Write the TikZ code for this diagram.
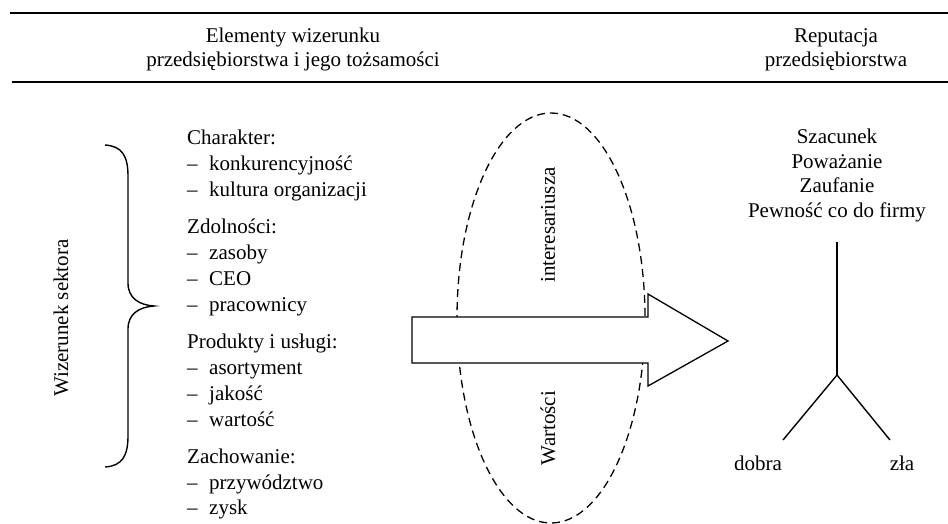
\documentclass[tikz,border=0pt]{standalone}
\usepackage{fontspec}
\setmainfont{Liberation Serif}
\tikzset{%
  txt/.style     = {font=\fontsize{21}{25}\selectfont, inner sep=0pt},%
  item/.style    = {txt, anchor=base west},%
  head/.style    = {txt, anchor=base},%
  vlabel/.style  = {txt, rotate=90},%
  hrule/.style   = {line width=2.2pt},%
  stroke/.style  = {line width=1.4pt},%
  oval/.style    = {line width=1.3pt, dash pattern=on 8pt off 5pt},%
  bigarrow/.style= {line width=1.3pt, fill=white}%
}
\newcommand{\pkt}[1]{\makebox[22pt][l]{--}#1}

\begin{document}
\begin{tikzpicture}[x=1pt,y=-1pt]
	\useasboundingbox (0,0) rectangle (948,523);
	% naglowek
	\coordinate (r1a) at (10,13);  \coordinate (r1b) at (948,13);
	\coordinate (r2a) at (12,82);  \coordinate (r2b) at (948,82);
	\draw[hrule] (r1a) -- (r1b);
	\draw[hrule] (r2a) -- (r2b);
	\node[head] (elem1) at (293,42) {Elementy wizerunku};
	\node[head] (elem2) at (293,66) {przedsiębiorstwa i jego tożsamości};
	\node[head] (rep1) at (836,42) {Reputacja};
	\node[head] (rep2) at (836,66) {przedsiębiorstwa};
	% klamra
	\node[vlabel] (sektor) at (61,318) {Wizerunek sektora};
	\coordinate (brtop) at (105,145);
	\coordinate (brtip) at (154,306);
	\coordinate (brbot) at (105,467);
	\draw[stroke] (brtop) .. controls (122,146) and (128,156) .. (128,176)
		-- (128,283) .. controls (128,298) and (139,305) .. (brtip)
		.. controls (139,307) and (128,314) .. (128,329)
		-- (128,436) .. controls (128,456) and (122,466) .. (brbot);
	% elementy
	\node[item] (char)   at (187,144) {Charakter:};
	\node[item] (konk)   at (187,170) {\pkt{konkurencyjność}};
	\node[item] (kult)   at (187,196) {\pkt{kultura organizacji}};
	\node[item] (zdol)   at (187,233) {Zdolności:};
	\node[item] (zasoby) at (187,259) {\pkt{zasoby}};
	\node[item] (ceo)    at (187,285) {\pkt{CEO}};
	\node[item] (prac)   at (187,311) {\pkt{pracownicy}};
	\node[item] (prod)   at (187,348) {Produkty i usługi:};
	\node[item] (asort)  at (187,374) {\pkt{asortyment}};
	\node[item] (jak)    at (187,400) {\pkt{jakość}};
	\node[item] (wart)   at (187,426) {\pkt{wartość}};
	\node[item] (zach)   at (187,463) {Zachowanie:};
	\node[item] (przyw)  at (187,489) {\pkt{przywództwo}};
	\node[item] (zysk)   at (187,514) {\pkt{zysk}};
	% wartosci interesariusza
	\draw[oval] (551,318) ellipse [x radius=94, y radius=205];
	\draw[bigarrow] (412,317) -- (648,317) -- (648,294) -- (728,341)
		-- (648,386) -- (648,363) -- (412,363) -- cycle;
	\node[vlabel] (inter) at (548,225) {interesariusza};
	\node[vlabel] (wartosci) at (548,428) {Wartości};
	% reputacja
	\node[head] (szac) at (837,143) {Szacunek};
	\node[head] (powaz) at (837,168) {Poważanie};
	\node[head] (zauf) at (837,192) {Zaufanie};
	\node[head] (pewn) at (837,217) {Pewność co do firmy};
	\coordinate (ytop) at (837,242);
	\coordinate (ymid) at (837,375);
	\coordinate (yl) at (783,440);
	\coordinate (yr) at (890,440);
	\draw[stroke] (ytop) -- (ymid);
	\draw[stroke] (ymid) -- (yl);
	\draw[stroke] (ymid) -- (yr);
	\node[head] (dobra) at (758,470) {dobra};
	\node[head] (zla) at (902,470) {zła};
\end{tikzpicture}
\end{document}
